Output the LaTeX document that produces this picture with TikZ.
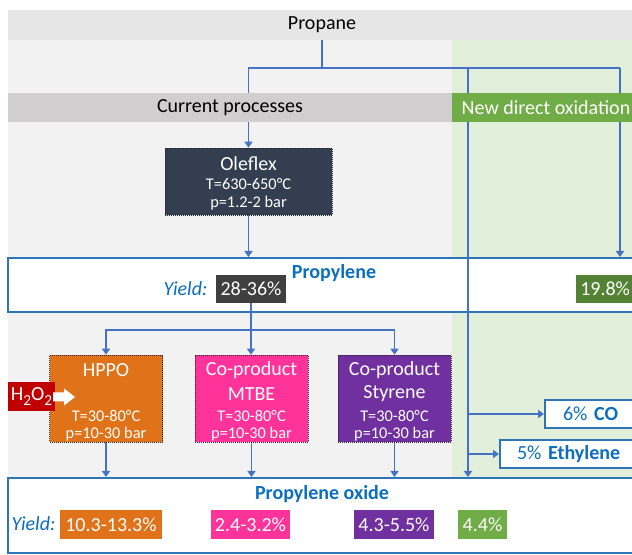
\documentclass[tikz,border=0pt]{standalone}
\usepackage{fontspec}
\setmainfont{Carlito}
\usetikzlibrary{arrows.meta,calc}
\definecolor{bandgray}{HTML}{E7E6E6}
\definecolor{bggray}{HTML}{F2F2F2}
\definecolor{bggreen}{HTML}{E2EFDA}
\definecolor{curgray}{HTML}{D0CECE}
\definecolor{newgreen}{HTML}{70AD47}
\definecolor{darkgreen}{HTML}{548235}
\definecolor{lineblue}{HTML}{4472C4}
\definecolor{borderblue}{HTML}{2E75B6}
\definecolor{textblue}{HTML}{0B6FC0}
\definecolor{olefx}{HTML}{333F50}
\definecolor{hppoc}{HTML}{E0731A}
\definecolor{mtbec}{HTML}{FF3399}
\definecolor{styc}{HTML}{7030A0}
\definecolor{darkbox}{HTML}{3F3F3F}
\definecolor{hored}{HTML}{C00000}
\newcommand\mysubsc[1]{\raisebox{-0.45ex}{\fontsize{11.5}{12}\selectfont #1}}
\pgfdeclarelayer{bg}
\pgfdeclarelayer{lines}
\pgfsetlayers{bg,lines,main}
\begin{document}
\begin{tikzpicture}[x=0.75pt,y=-0.75pt,
  big/.style={font=\fontsize{15}{18}\selectfont},
  small/.style={font=\fontsize{12.25}{14}\selectfont},
  txt/.style={inner sep=0pt},
  band/.style={inner sep=0pt, big},
  procbox/.style={draw=black!85, densely dotted, line width=0.5pt, inner sep=0pt, minimum height=65.25pt, minimum width=84.75pt},
  outbox/.style={draw=borderblue, line width=1.5pt, fill=white, inner sep=0pt, minimum width=477.75pt},
  yieldbox/.style={inner sep=0pt, minimum height=21.75pt, text=white, big},
  sidebox/.style={draw=borderblue, line width=1.5pt, fill=white, minimum height=21pt, align=left, text=textblue, big, inner ysep=0pt},
  conn/.style={draw=lineblue, line width=1.4pt},
  arr/.style={conn, -{Triangle[length=4.5pt,width=6pt]}},
  bluetxt/.style={txt, text=textblue, big}
]
\useasboundingbox (0,0) rectangle (632,555);

% ---- background layer
\begin{pgfonlayer}{bg}
  \fill[white] (0,0) rectangle (632,555);
  \fill[bggray] (8,40) rectangle (452,478);
  \fill[bggreen] (452,40) rectangle (640,478);
  \node[outbox, minimum height=40.5pt] (prop) at (326.5,285) {};
  \node[outbox, minimum height=56.25pt] (po) at (326.5,515.5) {};
\end{pgfonlayer}

% ---- bands
\node[band, fill=bandgray, minimum width=471pt, minimum height=22.5pt] (top) at (322,25) {Propane};
\node[band, fill=curgray, minimum width=333pt, minimum height=21.75pt] (cur) at (230,107.5) {Current processes};
\node[band, fill=newgreen, text=white, minimum width=141pt, minimum height=21.75pt] (new) at (546,107.5) {New direct oxidation};

% ---- Oleflex
\node[procbox, fill=olefx, minimum width=125.25pt, minimum height=50.25pt] (olf) at (248.5,181.5) {};
\node[txt, big, text=white] (olf1) at (248.5,164) {Oleflex};
\node[txt, small, text=white] (olf2) at (248.5,184) {T=630-650°C};
\node[txt, small, text=white] (olf3) at (248.5,203) {p=1.2-2 bar};

% ---- Propylene
\node[bluetxt, font=\fontsize{15}{18}\selectfont\bfseries] (proptxt) at (334,273) {Propylene};
\node[bluetxt, font=\fontsize{15}{18}\selectfont\itshape] (yl1) at (185.5,289) {Yield:};
\node[yieldbox, fill=darkbox, minimum width=52.5pt, minimum height=21pt] (y28) at (251,289) {28-36\%};
\node[yieldbox, fill=darkgreen, anchor=west, minimum height=21pt, inner xsep=3pt, text width=45pt, align=left] (y198) at (576,289) {19.8\%};

% ---- process boxes
\node[procbox, fill=hppoc] (hppo) at (106,398.5) {};
\node[procbox, fill=mtbec] (mtbe) at (251.5,398.5) {};
\node[procbox, fill=styc] (sty) at (394.5,398.5) {};
\foreach \n/\x in {hppo/106, mtbe/251.5, sty/394.5}{
  \node[txt, small, text=white] (\n-t) at (\x,416) {T=30-80°C};
  \node[txt, small, text=white] (\n-p) at (\x,434) {p=10-30 bar};
}
\node[txt, big, text=white] (hppo-a) at (106,370) {HPPO};
\node[txt, big, text=white] (mtbe-a) at (251.5,370) {Co-product};
\node[txt, big, text=white] (mtbe-b) at (251.5,394) {MTBE};
\node[txt, big, text=white] (sty-a) at (394.5,370) {Co-product};
\node[txt, big, text=white] (sty-b) at (394.5,394) {Styrene};

% ---- H2O2
\node[yieldbox, fill=hored, minimum width=35.25pt] (h2o2) at (31.5,396.5) {H\mysubsc{2}O\mysubsc{2}};
\fill[white] (53,392.5) -- (64,392.5) -- (64,388.5) -- (75,397) -- (64,405.5) -- (64,401.5) -- (53,401.5) -- cycle;

% ---- side products
\node[sidebox, anchor=west, inner xsep=13.5pt, text width=52.5pt] (co) at (544,414) {6\% \textbf{CO}};
\node[sidebox, anchor=west, inner xsep=12.75pt, text width=82.5pt] (eth) at (499,454) {5\% \textbf{Ethylene}};

% ---- Propylene oxide
\node[bluetxt, font=\fontsize{15}{18}\selectfont\bfseries] (potxt) at (322,494) {Propylene oxide};
\node[bluetxt, font=\fontsize{15}{18}\selectfont\itshape] (yl2) at (33.5,524) {Yield:};
\node[yieldbox, fill=hppoc, minimum width=76.5pt] (yh) at (111,524.5) {10.3-13.3\%};
\node[yieldbox, fill=mtbec, minimum width=59.25pt] (ym) at (250.5,524.5) {2.4-3.2\%};
\node[yieldbox, fill=styc, minimum width=60pt] (ys) at (394,524.5) {4.3-5.5\%};
\node[yieldbox, fill=newgreen, minimum width=36.75pt] (yn) at (482.5,524.5) {4.4\%};

% ---- connectors
\begin{pgfonlayer}{lines}
  \coordinate (jtop) at (322,68);
  \coordinate (jl) at (248.5,68);
  \coordinate (jm) at (468,68);
  \coordinate (jr) at (620,68);
  \coordinate (jb) at (251,330);
  \draw[conn] (top.south) -- (jtop);
  \draw[arr] (jr) -- (jl) -- (olf.north);
  \draw[arr] (jr) -- (jr |- prop.north);
  \draw[arr] (jm) -- (jm |- po.north);
  \draw[arr] (olf.south) -- (olf.south |- prop.north);
  \draw[conn] (y28.south) -- (jb);
  \draw[arr] (jb) -| (hppo.north);
  \draw[arr] (jb) -| (sty.north);
  \draw[arr] (jb) -- (jb |- mtbe.north);
  \draw[arr] (hppo.south) -- (hppo.south |- po.north);
  \draw[arr] (mtbe.south) -- (mtbe.south |- po.north);
  \draw[arr] (sty.south) -- (sty.south |- po.north);
  \draw[arr] (jm |- co.west) -- (co.west);
  \draw[arr] (jm |- eth.west) -- (eth.west);
\end{pgfonlayer}
\end{tikzpicture}
\end{document}
